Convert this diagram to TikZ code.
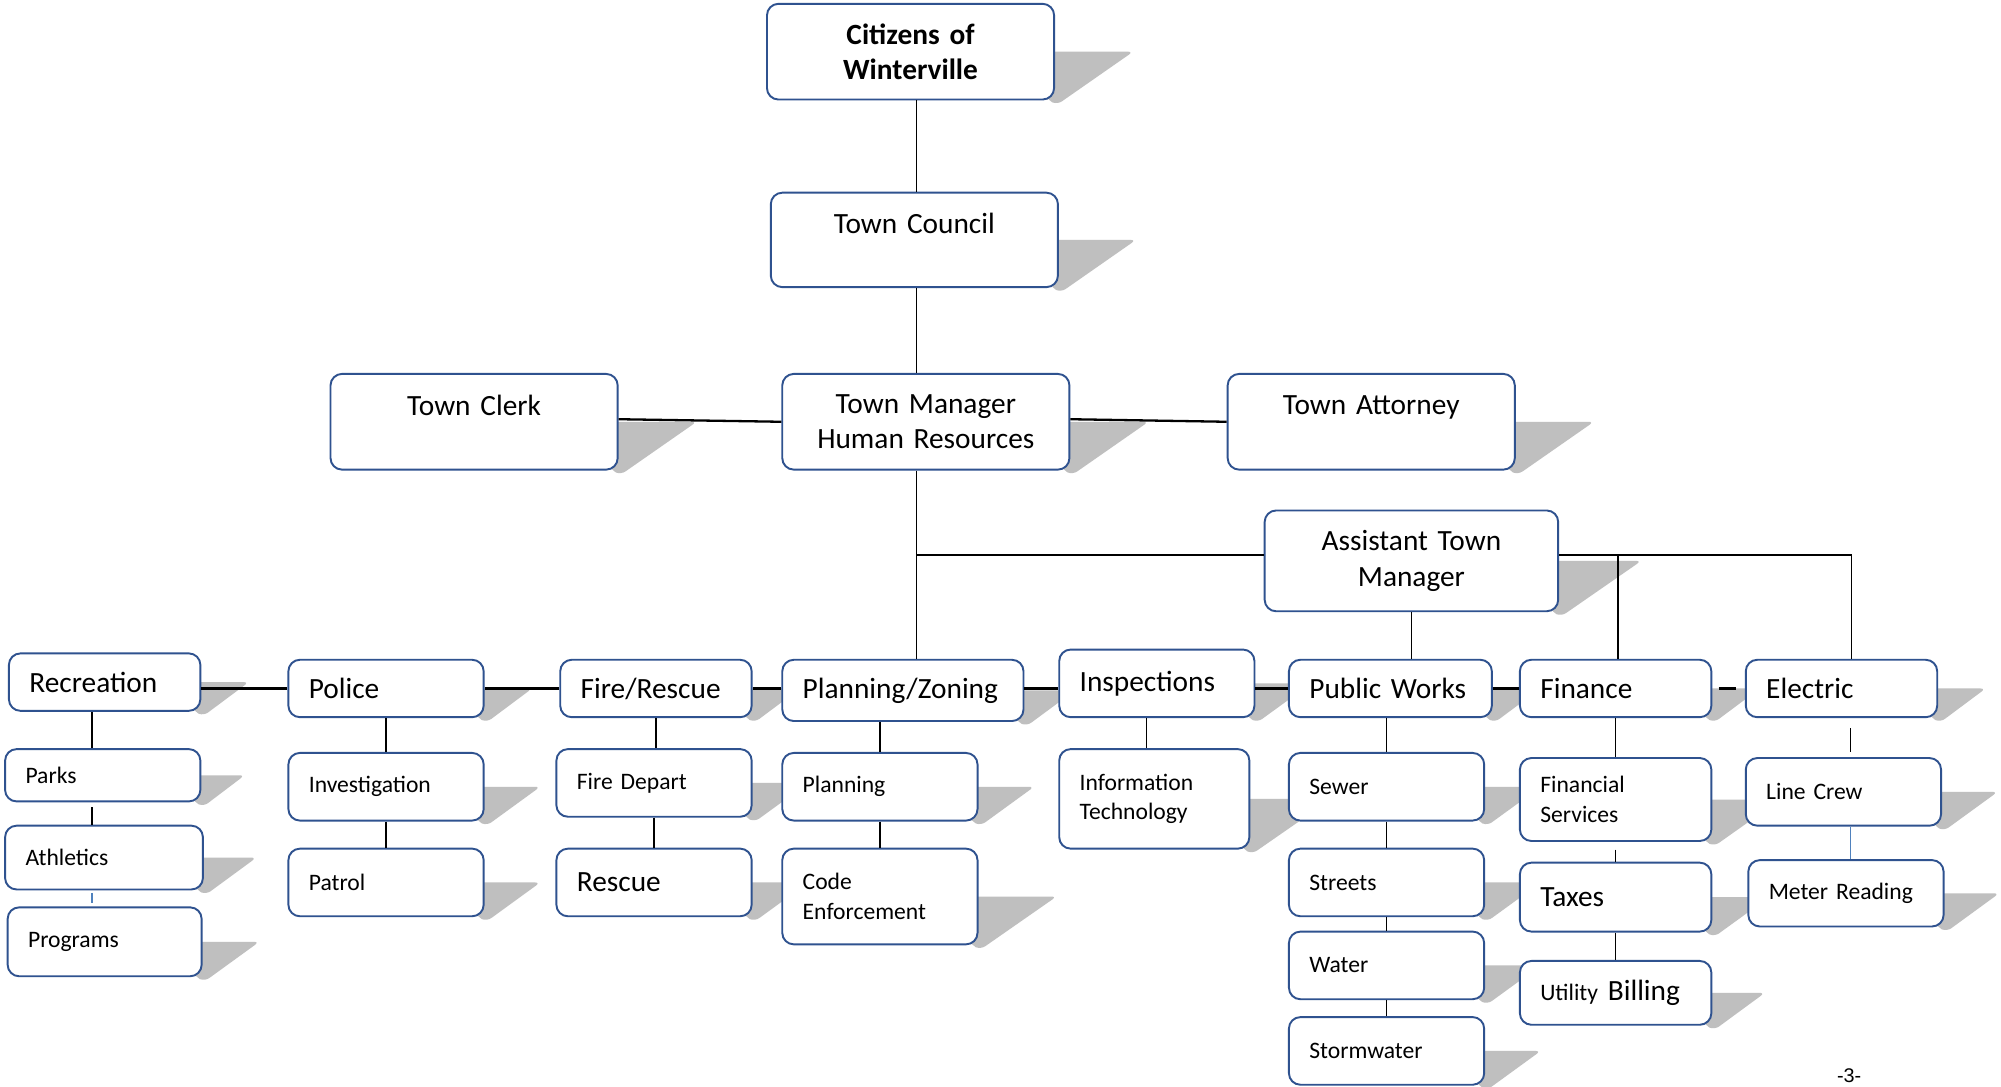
\documentclass[tikz,border=0pt]{standalone}
\usepackage{fontspec}
\setmainfont{Carlito}
\newfontfamily\pagefont{Liberation Sans}
\usetikzlibrary{calc,backgrounds}

\definecolor{boxblue}{RGB}{47,82,143}
\definecolor{shadowgray}{RGB}{191,191,191}
\definecolor{linkblue}{RGB}{79,129,189}

\newcommand{\bigtxt}{\fontsize{23}{28}\selectfont}
\newcommand{\smalltxt}{\fontsize{18.5}{23}\selectfont}

\tikzset{
  bsize/.code 2 args={\pgfmathsetmacro\bxw{#1-32}%
    \edef\bxset{\noexpand\tikzset{minimum width=#1pt,minimum height=#2pt,text width=\bxw pt}}\bxset},
  orgbox/.style={draw=boxblue, line width=1.5pt, rounded corners=9pt, fill=white, inner xsep=16pt, inner ysep=2pt},
  topbox/.style={orgbox, font=\bigtxt, align=center},
  unitbox/.style={orgbox, font=\bigtxt, align=left},
  subbox/.style={orgbox, font=\smalltxt, align=left},
  link/.style={draw=black, line width=1.1pt},
  rowlink/.style={draw=black, line width=1.8pt},
  bluelink/.style={draw=linkblue, line width=1.1pt},
}

\begin{document}
\begin{tikzpicture}[x=1pt,y=-1pt]
\useasboundingbox (0,0) rectangle (1568,851);

%Shape: Top boxes
\node [topbox, bsize={225}{75}, font=\bigtxt\bfseries] (cit) at (713.5,40.5) {Citizens of\\Winterville};
\node [topbox, bsize={225}{74}, text depth=26pt] (coun) at (716.5,188) {Town Council};
\node [topbox, bsize={225}{75}, text depth=26pt] (clerk) at (371.5,330.5) {Town Clerk};
\node [topbox, bsize={225}{75}] (mgr) at (725.5,330.5) {Town Manager\\Human Resources};
\node [topbox, bsize={225}{75}, text depth=26pt] (att) at (1074.5,330.5) {Town Attorney};
\node [topbox, bsize={230}{79}] (atm) at (1106,439.5) {Assistant Town\\Manager};

%Shape: Department row
\node [unitbox, bsize={150}{45}] (rec) at (82,534.5) {Recreation};
\node [unitbox, bsize={153}{45}] (pol) at (302.5,539.5) {Police};
\node [unitbox, bsize={150}{45}] (fire) at (514,539.5) {Fire/Rescue};
\node [unitbox, bsize={189}{48}] (plz) at (707.5,541) {Planning/Zoning};
\node [unitbox, bsize={153}{53}] (insp) at (906.5,535.5) {Inspections};
\node [unitbox, bsize={159}{45}] (pw) at (1089.5,539.5) {Public Works};
\node [unitbox, bsize={150}{45}] (fin) at (1266,539.5) {Finance};
\node [unitbox, bsize={150}{45}] (elec) at (1443,539.5) {Electric};

%Shape: Divisions
\node [subbox, bsize={153}{41}] (parks) at (80.5,607.5) {Parks};
\node [subbox, bsize={155}{50}] (ath) at (81.5,672) {Athletics};
\node [subbox, bsize={152}{54}] (prog) at (82,738) {Programs};
\node [subbox, bsize={153}{53}] (inv) at (302.5,616.5) {Investigation};
\node [subbox, bsize={153}{53}] (pat) at (302.5,691.5) {Patrol};
\node [subbox, bsize={153}{53}] (fdep) at (512.5,613.5) {Fire Depart};
\node [subbox, bsize={153}{53}, font=\bigtxt] (resc) at (512.5,691.5) {Rescue};
\node [subbox, bsize={153}{53}] (plan) at (689.5,616.5) {Planning};
\node [subbox, bsize={153}{75}] (code) at (689.5,702.5) {Code\\Enforcement};
\node [subbox, bsize={149}{78}] (it) at (904.5,626) {Information\\Technology};
\node [subbox, bsize={153}{53}] (sew) at (1086.5,616.5) {Sewer};
\node [subbox, bsize={153}{53}] (str) at (1086.5,691.5) {Streets};
\node [subbox, bsize={153}{53}] (wat) at (1086.5,756.5) {Water};
\node [subbox, bsize={153}{53}] (storm) at (1086.5,823.5) {Stormwater};
\node [subbox, bsize={150}{65}] (finsv) at (1266,626.5) {Financial\\Services};
\node [subbox, bsize={150}{54}, font=\bigtxt] (tax) at (1266,703) {Taxes};
\node [subbox, bsize={150}{50}, font=\bigtxt] (bill) at (1266,778) {{\smalltxt Utility} Billing};
\node [subbox, bsize={153}{53}] (lc) at (1444.5,620.5) {Line Crew};
\node [subbox, bsize={153}{52}] (mr) at (1446.5,700) {Meter Reading};

% Text Node
\node [font=\pagefont\fontsize{15.5}{18}\selectfont, anchor=base, inner sep=0pt] (pagenum) at (1449,848) {-3-};

%Straight Lines
\coordinate (spine) at (718,0);
\draw [link] (cit.south -| spine) -- (coun.north -| spine);
\draw [link] (coun.south -| spine) -- (mgr.north -| spine);
\draw [link] (mgr.south -| spine) -- (plz.north -| spine);
\draw [rowlink] ([yshift=2pt]clerk.east) -- (mgr.west);
\draw [rowlink] ([yshift=2pt]mgr.east) -- (att.west);
\draw [rowlink] ([yshift=4.5pt]atm.west) -- ([yshift=4.5pt]atm.west -| spine);
\coordinate (atmr) at ([yshift=4.5pt]atm.east);
\draw [link] (atmr) -| ([xshift=8pt]elec.north);
\draw [link] ([xshift=2pt]fin.north) -- ([xshift=2pt]fin.north |- atmr);
\draw [link] (atm.south) -- (atm.south |- pw.north);

%Straight Lines
\draw [rowlink] (rec.east |- pol.west) -- (pol.west);
\draw [rowlink] (pol.east) -- (fire.west);
\draw [rowlink] (fire.east) -- (fire.east -| plz.west);
\draw [rowlink] (plz.east |- pw.west) -- (insp.west |- pw.west);
\draw [rowlink] (insp.east |- pw.west) -- (pw.west);
\draw [rowlink] (pw.east) -- (fin.west);
\draw [rowlink] ([xshift=5pt]fin.east) -- ([xshift=-7pt]elec.west);

%Straight Lines
\draw [link] ([xshift=-10pt]rec.south) -- ([xshift=-10pt]rec.south |- parks.north);
\draw [link] ([xshift=-8.5pt,yshift=-4pt]parks.south) -- ([xshift=-8.5pt]parks.south |- ath.north);
\draw [bluelink] ([xshift=-9.5pt,yshift=-2pt]ath.south) -- ([xshift=-9.5pt,yshift=3pt]ath.south |- prog.north);
\draw [link] (pol.south) -- (pol.south |- inv.north);
\draw [link] (inv.south) -- (inv.south |- pat.north);
\draw [link] (fire.south) -- (fire.south |- fdep.north);
\draw [link] (fdep.south) -- (fdep.south |- resc.north);
\draw [link] (plan.north |- plz.south) -- (plan.north);
\draw [link] (plan.south) -- (code.north);
\draw [link] ([xshift=-8pt]insp.south) -- ([xshift=-8pt]insp.south |- it.north);
\draw [link] (sew.north |- pw.south) -- (sew.north);
\draw [link] (sew.south) -- (str.north);
\draw [link] (str.south) -- (wat.north);
\draw [link] (wat.south) -- (storm.north);
\draw [link] (fin.south) -- (fin.south |- finsv.north);
\draw [link] ([yshift=-6pt]finsv.south) -- (finsv.south |- tax.north);
\draw [link] (tax.south) -- (tax.south |- bill.north);
\draw [link] ([xshift=7pt,yshift=-8pt]elec.south) -- ([xshift=7pt,yshift=4pt]elec.south |- lc.north);
\draw [bluelink] ([xshift=5.5pt]lc.south) -- ([xshift=5.5pt]lc.south |- mr.north);

%Shape: Shadows
\begin{scope}[on background layer]
\fill [white] (0,0) rectangle (1568,851);
\foreach \bx in {cit,coun,clerk,mgr,att,atm,rec,pol,fire,plz,insp,pw,fin,elec,parks,ath,prog,inv,pat,fdep,resc,plan,code,it,sew,str,wat,storm,finsv,tax,bill,lc,mr}{
  \fill [shadowgray, rounded corners=4pt] let \p1=(\bx.north east), \p2=(\bx.south east) in
    (\x1-6pt,{(\y1+\y2)/2}) -- ({\x1+0.8*(\y1-\y2)},{(\y1+\y2)/2}) -- (\x2+2pt,\y2-3pt) -- (\x2-6pt,\y2) -- cycle;
}
\end{scope}

\end{tikzpicture}
\end{document}
